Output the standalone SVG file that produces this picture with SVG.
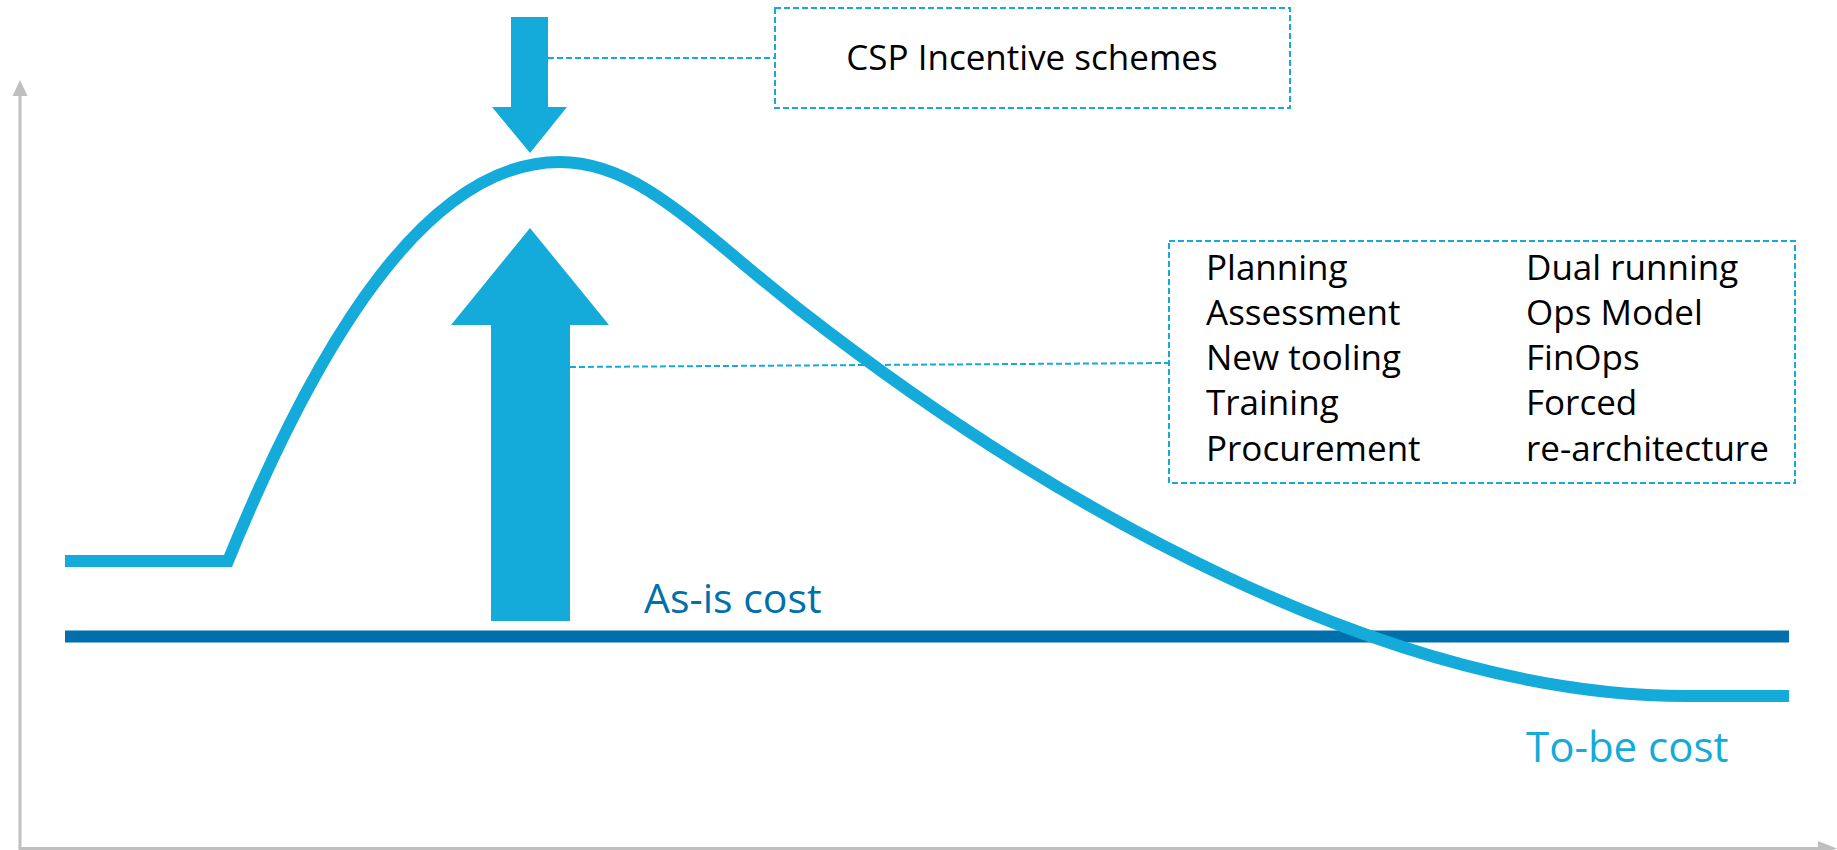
<svg xmlns="http://www.w3.org/2000/svg" width="1837" height="850" viewBox="0 0 1837 850">
  <style>
    .axis { stroke: #BFBFBF; stroke-width: 3; fill: none; }
    .axishead { fill: #BFBFBF; }
    .curve { stroke: #14ABDB; stroke-width: 12; fill: none; stroke-linejoin: miter; stroke-linecap: butt; }
    .asis { stroke: #0070AD; stroke-width: 12; fill: none; }
    .bigarrow { fill: #14ABDB; }
    .dash { stroke: #14ABDB; stroke-width: 2; stroke-dasharray: 6 3; fill: none; }
    .box { stroke: #14ABDB; stroke-width: 2; stroke-dasharray: 6 3; fill: #FFFFFF; }
    .lbl { font-family: "Open Sans", "Liberation Sans", sans-serif; font-size: 35px; font-weight: 500; fill: #000000; }
    .big { font-family: "Open Sans", "Liberation Sans", sans-serif; font-weight: 500; }
  </style>

  <g id="axes">
    <line class="axis" x1="20" y1="94" x2="20" y2="848.5"/>
    <polygon class="axishead" points="20,80 27.5,96 12.5,96"/>
    <line class="axis" x1="18.5" y1="848.5" x2="1820" y2="848.5"/>
    <polygon class="axishead" points="1837,848.5 1818,841 1818,856"/>
  </g>

  <g id="as-is-line">
    <line class="asis" x1="65" y1="636.5" x2="1789" y2="636.5"/>
    <text class="big" x="644" y="613" font-size="41" fill="#0070AD">As-is cost</text>
  </g>

  <g id="to-be-curve">
    <path class="curve" d="M65,561 L228,561 C322,331 430,162 560,162 C640,162 700,232 800,310 C1050,505 1387,696 1687,696 L1789,696"/>
    <text class="big" x="1526" y="762" font-size="42" fill="#14ABDB">To-be cost</text>
  </g>

  <g id="connectors">
    <line class="dash" x1="548" y1="58" x2="775" y2="58"/>
    <line class="dash" x1="570" y1="367" x2="1169" y2="363"/>
  </g>

  <g id="incentive-arrow">
    <polygon class="bigarrow" points="511,17 548,17 548,107 567,107 530,153 492,107 511,107"/>
  </g>

  <g id="cost-arrow">
    <polygon class="bigarrow" points="530,228 609,325 570,325 570,621 491,621 491,325 451,325"/>
  </g>

  <g id="csp-box">
    <rect class="box" x="775" y="8" width="515" height="100"/>
    <text class="lbl" x="1032" y="70" text-anchor="middle">CSP Incentive schemes</text>
  </g>

  <g id="cost-items-box">
    <rect class="box" x="1169" y="241" width="626" height="242"/>
    <text class="lbl" x="1206" y="280">Planning</text>
    <text class="lbl" x="1206" y="325">Assessment</text>
    <text class="lbl" x="1206" y="370">New tooling</text>
    <text class="lbl" x="1206" y="415">Training</text>
    <text class="lbl" x="1206" y="461">Procurement</text>
    <text class="lbl" x="1526" y="280">Dual running</text>
    <text class="lbl" x="1526" y="325">Ops Model</text>
    <text class="lbl" x="1526" y="370">FinOps</text>
    <text class="lbl" x="1526" y="415">Forced</text>
    <text class="lbl" x="1526" y="461">re-architecture</text>
  </g>
</svg>
